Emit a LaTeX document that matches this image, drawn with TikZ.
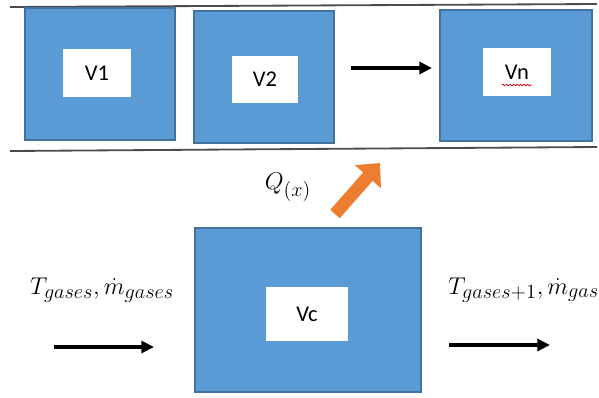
\documentclass[tikz,border=0pt]{standalone}
\usepackage{amsmath}
\usepackage{fontspec}
\newfontfamily\boxfont{Carlito}
\usetikzlibrary{arrows.meta,decorations.pathmorphing}
\DeclareMathSizes{18}{18}{14}{11}

\definecolor{boxblue}{HTML}{5B9BD5}
\definecolor{boxedge}{HTML}{41719C}
\definecolor{heatorange}{HTML}{ED7D31}

\begin{document}
\begin{tikzpicture}[x=0.025cm,y=-0.025cm,
  vol/.style={draw=boxedge,fill=boxblue,line width=1pt,inner sep=0pt},
  tag/.style={fill=white,inner sep=0pt,font=\boxfont\fontsize{16}{16}\selectfont},
  flow/.style={-{Triangle[length=9pt,width=8.5pt]},line width=2.4pt},
  wall/.style={black!70,line width=1.3pt},
  lbl/.style={inner sep=0pt,font=\fontsize{18}{18}\selectfont}]
\useasboundingbox (0,0) rectangle (599,397);

% Pipe walls
\draw[wall] (10,7) -- (597,4);
\draw[wall] (10,151) -- (597,147);

% Volumes along the pipe
\node[vol,minimum width=3.75cm,minimum height=3.3cm] (v1) at (100,74) {};
\node[tag,minimum width=1.7cm,minimum height=1.2cm] (v1tag) at (97,73) {V1};

\node[vol,minimum width=3.5cm,minimum height=3.3cm] (v2) at (264,77) {};
\node[tag,minimum width=1.65cm,minimum height=1.175cm] (v2tag) at (265,79.5) {V2};

\node[vol,minimum width=3.8cm,minimum height=3.275cm] (vn) at (516,75.5) {};
\node[tag,minimum width=1.7cm,minimum height=1.2cm] (vntag) at (517,72) {Vn};
\draw[red!80!black,line width=0.5pt,decoration={snake,amplitude=0.6pt,segment length=2.5pt},decorate] (502,85) -- (532,85);

\coordinate (s1) at (351,68);
\coordinate (s2) at (432,68);
\draw[flow] (s1) -- (s2);

% Control volume
\node[vol,minimum width=5.65cm,minimum height=4.1cm] (vc) at (308,310) {};
\node[tag,minimum width=2.05cm,minimum height=1.35cm] (vctag) at (307,314) {Vc};

% Heat to the pipe
\coordinate (q1) at (335,214);
\coordinate (q2) at (380,163);
\draw[heatorange,line width=9pt,-{Triangle[length=13pt,width=24pt]}] (q1) -- (q2);
\node[lbl] (qlbl) at (288,187) {$Q_{(x)}$};

% Gas inlet and outlet
\node[lbl] (inlbl) at (102,290) {$T_{gases},\dot{m}_{gases}$};
\coordinate (in1) at (54,347);
\coordinate (in2) at (154,347);
\draw[flow] (in1) -- (in2);

\node[lbl,anchor=west] (outlbl) at (448,290) {$T_{gases+1},\dot{m}_{gases}$};
\coordinate (out1) at (449,345);
\coordinate (out2) at (550,345);
\draw[flow] (out1) -- (out2);

\end{tikzpicture}
\end{document}
